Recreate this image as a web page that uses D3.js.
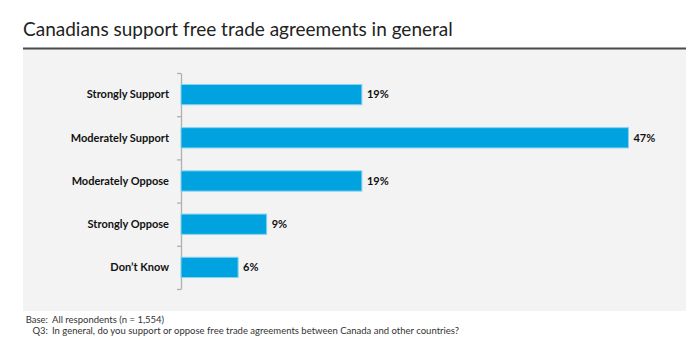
<!DOCTYPE html>
<html><head><meta charset="utf-8">
<script src="https://cdn.jsdelivr.net/npm/d3@7"></script>
<style>
html,body{margin:0;padding:0;background:#fff;}
svg{display:block;font-family:Lato,"Noto Sans",sans-serif;}
</style></head>
<body>
<svg id="chart" width="700" height="355"></svg>
<script>
const title = "Canadians support free trade agreements in general";
const categories = ["Strongly Support","Moderately Support","Moderately Oppose","Strongly Oppose","Don\u2019t Know"];
const values = [19,47,19,9,6];
const valueLabels = ["19%","47%","19%","9%","6%"];
const footBase = "All respondents (n = 1,554)";
const footQ = "In general, do you support or oppose free trade agreements between Canada and other countries?";

const svg = d3.select("#chart");

// panel
svg.append("rect").attr("x",23).attr("y",49).attr("width",663).attr("height",262).attr("fill","#f3f3f3");
svg.append("line").attr("x1",23).attr("x2",686).attr("y1",48.5).attr("y2",48.5).attr("stroke","#4a4a4a").attr("stroke-width",2);

svg.append("text").attr("x",23).attr("y",36).attr("font-size",19).attr("fill","#222").text(title);

const y = d3.scaleBand().domain(categories).range([73,289]).paddingInner(0.53).paddingOuter(0.265);
const x = d3.scaleLinear().domain([0,50]).range([181,657]);

// axis with ticks at band boundaries
const yb = d3.scaleLinear().domain([0,categories.length]).range([73,289]);
const axis = svg.append("g").attr("transform","translate(181,0)")
  .call(d3.axisLeft(yb).tickValues(d3.range(categories.length+1)).tickFormat("").tickSize(4).tickSizeOuter(0));
axis.selectAll("path,line").attr("stroke","#b0b0b0").attr("stroke-width",1.3);

svg.append("g").selectAll("rect").data(categories).join("rect")
  .attr("x",x(0)).attr("y",d=>y(d))
  .attr("width",(d,i)=>x(values[i])-x(0)).attr("height",y.bandwidth())
  .attr("fill","#00a3e0").attr("stroke","#8ad3f0").attr("stroke-width",1);

svg.append("g").selectAll("text").data(categories).join("text")
  .attr("x",169).attr("y",d=>y(d)+y.bandwidth()/2).attr("dy","0.35em")
  .attr("text-anchor","end").attr("font-size",11).attr("font-weight","bold").attr("fill","#111")
  .text(d=>d);

svg.append("g").selectAll("text").data(categories).join("text")
  .attr("x",(d,i)=>x(values[i])+5).attr("y",d=>y(d)+y.bandwidth()/2).attr("dy","0.35em")
  .attr("font-size",11).attr("font-weight","bold").attr("fill","#111")
  .text((d,i)=>valueLabels[i]);

const f = svg.append("g").attr("font-size",9.5).attr("fill","#333");
f.append("text").attr("x",48).attr("y",323).attr("text-anchor","end").text("Base:");
f.append("text").attr("x",52).attr("y",323).text(footBase);
f.append("text").attr("x",48).attr("y",334).attr("text-anchor","end").text("Q3:");
f.append("text").attr("x",52).attr("y",334).text(footQ);
</script>
</body></html>
